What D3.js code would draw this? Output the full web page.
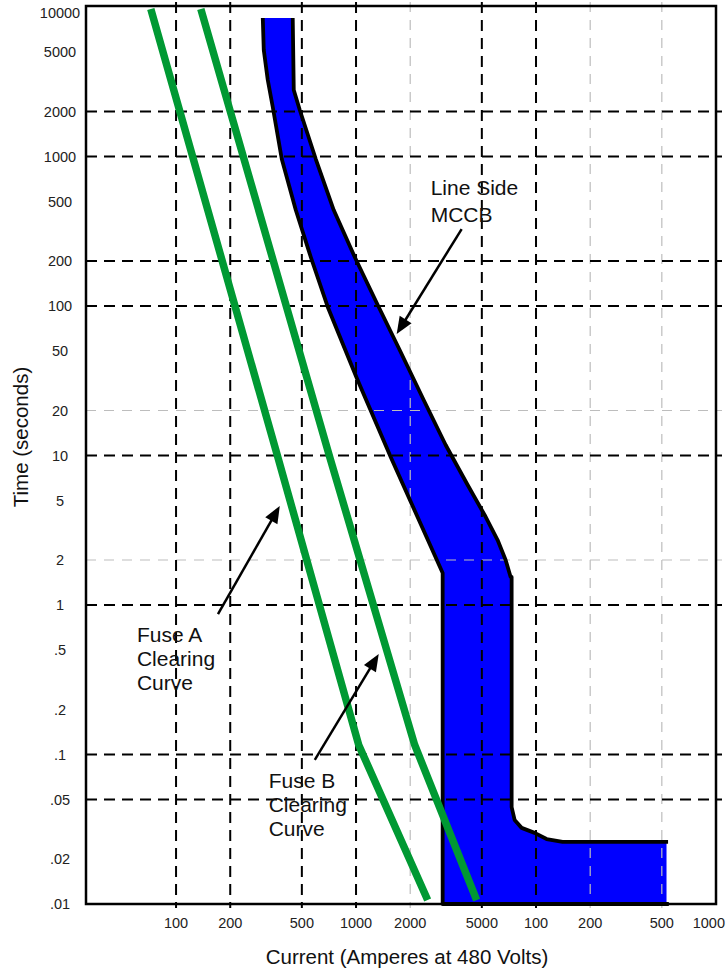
<!DOCTYPE html>
<html><head><meta charset="utf-8">
<script src="https://cdn.jsdelivr.net/npm/d3@7"></script>
<style>
body{margin:0;background:#fff}
svg{display:block}
text{font-family:"Liberation Sans",Arial,Helvetica,sans-serif}
</style>
</head><body>
<svg id="chart" width="727" height="968"></svg>
<script>
// Axis ticks: current (amperes at 480 V) and time (seconds)
const xTickValues = [100, 200, 500, 1000, 2000, 5000, 10000, 20000, 50000, 100000];
const xTickLabels = ["100", "200", "500", "1000", "2000", "5000", "100", "200", "500", "1000"];
const yTickValues = [10000, 5000, 2000, 1000, 500, 200, 100, 50, 20, 10, 5, 2, 1, 0.5, 0.2, 0.1, 0.05, 0.02, 0.01];
const yTickLabels = ["10000", "5000", "2000", "1000", "500", "200", "100", "50", "20", "10", "5", "2", "1", ".5", ".2", ".1", ".05", ".02", ".01"];

// Grid lines (bold dashed and light dashed)
const xGridMajor = [100, 200, 500, 1000, 5000, 10000];
const xGridMinor = [2000, 20000, 50000];
const yGridMajor = [2000, 1000, 200, 100, 10, 1, 0.1, 0.05];
const yGridMinor = [20, 2];

// Fuse A clearing curve
const fuseACurrent = [72.4, 367.5, 1035, 2500];
const fuseATime    = [9700, 9.77, 0.1158, 0.01063];

// Fuse B clearing curve
const fuseBCurrent = [137.3, 714, 2118, 4679];
const fuseBTime    = [9700, 9.77, 0.1158, 0.01063];

// Line side MCCB trip band: minimum (left) edge
const mccbMinCurrent = [303.3, 307.2, 323.3, 344.6, 386.7, 462.6, 560.3, 696.2, 1009, 1558, 3029, 3029];
const mccbMinTime    = [8441, 5157, 3249, 2144, 962, 438.6, 212.7, 98.5, 33.0, 9.77, 1.637, 0.01];

// Line side MCCB trip band: maximum (right) edge, incl. instantaneous region
const mccbMaxCurrent = [444.9, 450.8, 486.9, 597.4, 751.7, 983.3, 1320, 1748, 2376, 3148, 4171, 5182, 6118, 6779, 7226, 7320, 7320, 7605, 8318, 9822, 11450, 14050, 53100];
const mccbMaxTime    = [8441, 2785, 2046, 962, 438.6, 212.7, 101.6, 50.8, 23.5, 11.76, 6.35, 4.0, 2.72, 2.0, 1.54, 1.54, 0.0445, 0.0365, 0.0323, 0.0299, 0.0272, 0.026, 0.026];
const mccbFloorTime = 0.01;

// Annotations: text, text anchor (A, s), arrow tail and tip (A, s)
const noteText  = [["Line Side", "MCCB"], ["Fuse A", "Clearing", "Curve"], ["Fuse B", "Clearing", "Curve"]];
const noteAt    = [[2598, 553], [60.6, 0.566], [327, 0.0597]];
const noteTail  = [[3862, 327], [171, 0.87], [590, 0.092]];
const noteTip   = [[1682, 65], [377, 4.6], [1337, 0.47]];
const noteLineGap = [27, 24, 24];

const svg = d3.select("#chart");
const W = 727;

const x = d3.scaleLog().domain([31.6, 100000]).range([86, 716]);
const y = d3.scaleLog().domain([0.01, 10000]).range([904, 7]);
const [x0, x1] = x.range();
const yBottom = 904, yTop = 6;

const zip = (a, b) => a.map((v, i) => [v, b[i]]);
const line = d3.line().x(d => x(d[0])).y(d => y(d[1]));

// MCCB band fill
const minPts = zip(mccbMinCurrent, mccbMinTime);
const maxPts = zip(mccbMaxCurrent, mccbMaxTime);
const lastMax = maxPts[maxPts.length - 1];
const bandPts = minPts.concat([[lastMax[0], mccbFloorTime]], maxPts.slice().reverse());
svg.append("path").attr("d", line(bandPts) + "Z").attr("fill", "#0000ff");

// Grid
const g = svg.append("g");
g.selectAll(".vmin").data(xGridMinor).join("line")
  .attr("x1", d => x(d)).attr("x2", d => x(d)).attr("y1", 2).attr("y2", 908)
  .attr("stroke", "#bdbdbd").attr("stroke-width", 1.2).attr("stroke-dasharray", "10 8");
g.selectAll(".hmin").data(yGridMinor).join("line")
  .attr("x1", x0).attr("x2", 722).attr("y1", d => y(d)).attr("y2", d => y(d))
  .attr("stroke", "#bdbdbd").attr("stroke-width", 1.2).attr("stroke-dasharray", "10 8");
g.selectAll(".vmaj").data(xGridMajor).join("line")
  .attr("x1", d => x(d)).attr("x2", d => x(d)).attr("y1", 2).attr("y2", 908)
  .attr("stroke", "#000").attr("stroke-width", 2).attr("stroke-dasharray", "11 7");
g.selectAll(".hmaj").data(yGridMajor).join("line")
  .attr("x1", x0).attr("x2", 722).attr("y1", d => y(d)).attr("y2", d => y(d))
  .attr("stroke", "#000").attr("stroke-width", 2).attr("stroke-dasharray", "11 7");

// MCCB outlines
svg.append("path").attr("d", line(minPts.concat([[lastMax[0] * 1.03, mccbFloorTime]])))
  .attr("fill", "none").attr("stroke", "#000").attr("stroke-width", 3.8).attr("stroke-linejoin", "round");
svg.append("path").attr("d", line(maxPts.concat([[lastMax[0] * 1.02, lastMax[1]]])))
  .attr("fill", "none").attr("stroke", "#000").attr("stroke-width", 3.8).attr("stroke-linejoin", "round");

// Fuse curves
[[fuseACurrent, fuseATime], [fuseBCurrent, fuseBTime]].forEach(([c, t]) => {
  svg.append("path").attr("d", line(zip(c, t)))
    .attr("fill", "none").attr("stroke", "#009933").attr("stroke-width", 7.5)
    .attr("stroke-linejoin", "round").attr("stroke-linecap", "butt");
});

// Frame
svg.append("rect").attr("x", x0).attr("y", yTop).attr("width", x1 - x0).attr("height", yBottom - yTop)
  .attr("fill", "none").attr("stroke", "#000").attr("stroke-width", 2.5);

// Y tick labels
svg.append("g").selectAll("text").data(yTickValues).join("text")
  .attr("x", 60).attr("y", d => Math.max(y(d), 13)).attr("dy", "0.35em")
  .attr("text-anchor", "middle").attr("font-size", 14.5).attr("fill", "#222")
  .text((d, i) => yTickLabels[i]);

// X tick labels
const xt = svg.append("g").selectAll("text").data(xTickValues).join("text")
  .attr("y", 928).attr("text-anchor", "middle").attr("font-size", 14.5).attr("fill", "#222")
  .text((d, i) => xTickLabels[i]);
xt.attr("x", function(d) {
  const half = this.getComputedTextLength() / 2;
  return Math.min(x(d), W - half - 2);
});

// Axis titles
svg.append("text").attr("x", 407).attr("y", 964).attr("text-anchor", "middle")
  .attr("font-size", 20.5).attr("fill", "#111").text("Current (Amperes at 480 Volts)");
svg.append("text").attr("transform", "translate(28,437) rotate(-90)").attr("text-anchor", "middle")
  .attr("font-size", 20.5).attr("fill", "#111").text("Time (seconds)");

// Annotations with arrows
noteText.forEach((lines, i) => {
  const tx = x(noteAt[i][0]), ty = y(noteAt[i][1]);
  const t = svg.append("text").attr("font-size", 21).attr("fill", "#111");
  lines.forEach((s, k) => t.append("tspan").attr("x", tx).attr("y", ty + k * noteLineGap[i]).text(s));

  const ax = x(noteTail[i][0]), ay = y(noteTail[i][1]);
  const bx = x(noteTip[i][0]), by = y(noteTip[i][1]);
  const dx = bx - ax, dy = by - ay, len = Math.hypot(dx, dy);
  const ux = dx / len, uy = dy / len;
  const hl = 17, hw = 7;
  const baseX = bx - ux * hl, baseY = by - uy * hl;
  svg.append("line").attr("x1", ax).attr("y1", ay).attr("x2", baseX + ux * 2).attr("y2", baseY + uy * 2)
    .attr("stroke", "#000").attr("stroke-width", 2.5);
  svg.append("path")
    .attr("d", `M${bx},${by}L${baseX - uy * hw},${baseY + ux * hw}L${baseX + uy * hw},${baseY - ux * hw}Z`)
    .attr("fill", "#000");
});
</script>
</body></html>
